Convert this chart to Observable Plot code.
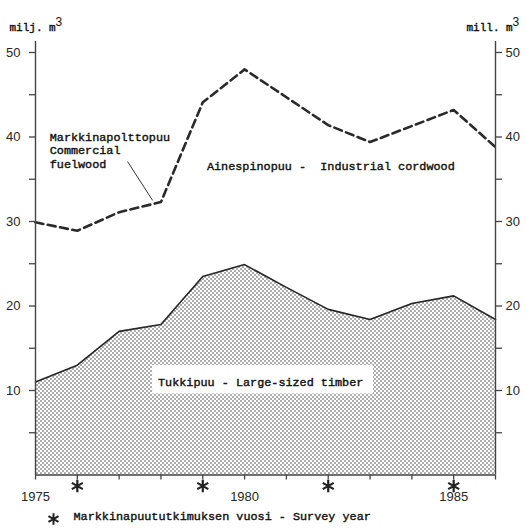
<!DOCTYPE html>
<html>
<head>
<meta charset="utf-8">
<script src="https://cdn.jsdelivr.net/npm/d3@7"></script>
<script src="https://cdn.jsdelivr.net/npm/@observablehq/plot@0.6"></script>
<style>
  html, body { margin: 0; padding: 0; background: #fff; overflow: hidden; }
</style>
</head>
<body>
<div id="chart"></div>
<script>
// ---- data ----
const years = [1975, 1976, 1977, 1978, 1979, 1980, 1981, 1982, 1983, 1984, 1985, 1986];
const timber = [11.0, 13.0, 17.0, 17.8, 23.5, 24.9, 22.2, 19.6, 18.4, 20.3, 21.2, 18.4];
const total = [29.9, 28.9, 31.1, 32.3, 44.1, 48.0, 44.7, 41.4, 39.4, 41.3, 43.2, 38.8];
const surveyYears = [1976, 1979, 1982, 1985];
const yTicks = [5, 10, 15, 20, 25, 30, 35, 40, 45, 50];
const xLabels = [1975, 1980, 1985];

// annotation anchors in data units
const labelCordwood = [{x: 1979.1, y: 36.5, text: "Ainespinopuu -  Industrial cordwood"}];
const labelTimber = [{x: 1977.93, y: 10.95, text: "Tukkipuu - Large-sized timber"}];
const timberBox = [{x1: 1977.8, x2: 1983.08, y1: 9.6, y2: 12.95}];
const labelFuel = [{x: 1975.34, y: 38.45, text: "Markkinapolttopuu\nCommercial\nfuelwood"}];
const fuelPointer = [{x1: 1977.2, y1: 37.1, x2: 1977.8, y2: 32.5}];

const rows = years.map((yr, i) => ({year: yr, timber: timber[i], total: total[i]}));

const mono = "'Courier New', 'Liberation Mono', monospace";
const sans = "'Liberation Sans', Arial, sans-serif";
const ink = "#262626";

const plot = Plot.plot({
  width: 526,
  height: 529,
  marginLeft: 35,
  marginRight: 31,
  marginTop: 41,
  marginBottom: 54.5,
  style: {fontFamily: sans, fontSize: "13px", color: ink, background: "#fff"},
  x: {domain: [1975, 1986]},
  y: {domain: [0, 51.3]},
  marks: [
    // timber area
    Plot.areaY(rows, {x: "year", y: "timber", fill: "url(#dots)", curve: "linear"}),
    Plot.lineY(rows, {x: "year", y: "timber", stroke: ink, strokeWidth: 1.6}),
    // total line (dashed)
    Plot.lineY(rows, {x: "year", y: "total", stroke: "#2a2a2a", strokeWidth: 2.6, strokeDasharray: "8,4.5"}),
    // frame axes
    Plot.ruleX([1975, 1986], {stroke: "#444", strokeWidth: 1.4}),
    Plot.ruleY([0], {stroke: "#444", strokeWidth: 1.4}),
    Plot.axisY({anchor: "left", ticks: yTicks, tickSize: 6, tickPadding: 9,
      tickFormat: d => d % 10 === 0 ? String(d) : "", stroke: "#444", strokeWidth: 1.3,
      fontSize: 13, label: null}),
    Plot.axisY({anchor: "right", ticks: yTicks, tickSize: 6, tickPadding: 4,
      tickFormat: d => d % 10 === 0 ? String(d) : "", stroke: "#444", strokeWidth: 1.3,
      fontSize: 13, label: null}),
    Plot.axisX({anchor: "bottom", ticks: years, tickSize: 5, tickPadding: 12,
      tickFormat: d => xLabels.includes(d) ? String(d) : "", stroke: "#444", strokeWidth: 1.3,
      fontSize: 13, label: null}),
    // survey year asterisks
    Plot.dot(surveyYears, {x: d => d, frameAnchor: "bottom", dy: 11, symbol: "asterisk",
      r: 6, stroke: "#222", strokeWidth: 2.2}),
    // annotations
    Plot.rect(timberBox, {x1: "x1", x2: "x2", y1: "y1", y2: "y2", fill: "white"}),
    Plot.text(labelTimber, {x: "x", y: "y", text: "text", textAnchor: "start",
      fontFamily: mono, fontSize: 11.8, fill: "#111", stroke: "#111", strokeWidth: 0.4}),
    Plot.text(labelCordwood, {x: "x", y: "y", text: "text", textAnchor: "start",
      fontFamily: mono, fontSize: 11.8, fill: "#111", stroke: "#111", strokeWidth: 0.4}),
    Plot.text(labelFuel, {x: "x", y: "y", text: "text", textAnchor: "start", lineHeight: 1.13,
      fontFamily: mono, fontSize: 11.8, fill: "#111", stroke: "#111", strokeWidth: 0.4}),
    Plot.link(fuelPointer, {x1: "x1", y1: "y1", x2: "x2", y2: "y2", stroke: "#333", strokeWidth: 1}),
    // unit labels
    Plot.text(["milj. m"], {frameAnchor: "top-left", dx: -26, dy: -11, textAnchor: "start",
      lineAnchor: "bottom", fontFamily: mono, fontSize: 11, fill: "#111", stroke: "#111", strokeWidth: 0.4}),
    Plot.text(["3"], {frameAnchor: "top-left", dx: 20, dy: -16, textAnchor: "start",
      lineAnchor: "bottom", fontFamily: sans, fontSize: 12, fill: "#111"}),
    Plot.text(["mill. m"], {frameAnchor: "top-right", dx: -29, dy: -11, textAnchor: "start",
      lineAnchor: "bottom", fontFamily: mono, fontSize: 11, fill: "#111", stroke: "#111", strokeWidth: 0.4}),
    Plot.text(["3"], {frameAnchor: "top-right", dx: 17, dy: -16, textAnchor: "start",
      lineAnchor: "bottom", fontFamily: sans, fontSize: 12, fill: "#111"}),
    // legend
    Plot.dot(["legend"], {frameAnchor: "bottom-left", dx: 18, dy: 44, symbol: "asterisk",
      r: 5.5, stroke: "#222", strokeWidth: 2}),
    Plot.text(["Markkinapuututkimuksen vuosi - Survey year"], {frameAnchor: "bottom-left",
      dx: 38, dy: 45, textAnchor: "start", fontFamily: mono, fontSize: 11.8,
      fill: "#111", stroke: "#111", strokeWidth: 0.4})
  ]
});

// dotted pattern for the timber area
const ns = "http://www.w3.org/2000/svg";
const defs = document.createElementNS(ns, "defs");
defs.innerHTML = `<pattern id="dots" width="4" height="4" patternUnits="userSpaceOnUse">
  <rect width="4" height="4" fill="#fff"/>
  <circle cx="1" cy="1" r="0.72" fill="#333"/>
  <circle cx="3" cy="3" r="0.72" fill="#333"/>
</pattern>`;
plot.insertBefore(defs, plot.firstChild);

document.getElementById("chart").appendChild(plot);
</script>
</body>
</html>
